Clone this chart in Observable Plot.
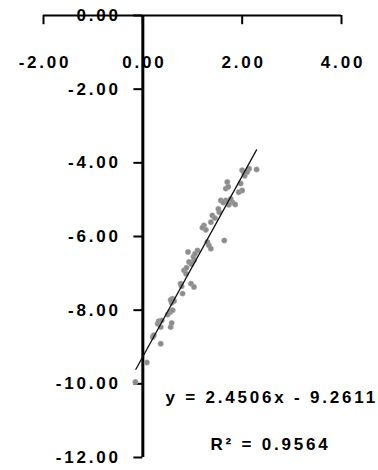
<!DOCTYPE html>
<html>
<head>
<meta charset="utf-8">
<script src="https://cdn.jsdelivr.net/npm/d3@7"></script>
<script src="https://cdn.jsdelivr.net/npm/@observablehq/plot@0.6"></script>
<style>
  html, body { margin: 0; padding: 0; background: #fff; }
  #chart svg { display: block; }
  #chart svg text { letter-spacing: 2.8px; }
</style>
</head>
<body>
<div id="chart"></div>
<script>
const xTicks = [-2, 0, 2, 4];
const xTickLabels = ["-2.00", "0.00", "2.00", "4.00"];
const yTicks = [0, -2, -4, -6, -8, -10, -12];
const yTickLabels = ["0.00", "-2.00", "-4.00", "-6.00", "-8.00", "-10.00", "-12.00"];

const pointX = [-0.15, 0.08, 0.20, 0.22, 0.36, 0.30, 0.32, 0.36, 0.38, 0.56, 0.58, 0.55, 0.60, 0.50,
  0.58, 0.60, 0.63, 0.56, 0.80, 0.76, 0.78, 0.97, 1.03, 0.83, 0.87, 0.88, 0.93, 1.03, 0.98,
  0.91, 1.02, 1.10, 1.05, 1.33, 1.37, 1.30, 1.64, 1.23, 1.20, 1.27, 1.37, 1.40, 1.45, 1.54,
  1.52, 1.57, 1.67, 1.62, 1.80, 1.86, 1.73, 1.77, 1.70, 1.67, 1.72, 1.97, 2.00, 1.93, 2.00,
  2.04, 2.05, 2.14, 2.29, 2.10];
const pointY = [-9.95, -9.42, -8.73, -8.68, -8.91, -8.37, -8.30, -8.46, -8.28, -8.46, -8.35, -8.05, -8.00, -8.12,
  -7.80, -7.69, -7.75, -7.72, -7.55, -7.28, -7.35, -7.28, -7.37, -6.92, -7.01, -6.85, -6.69, -6.65, -6.75,
  -6.42, -6.55, -6.38, -6.47, -6.24, -6.33, -6.15, -6.11, -5.70, -5.76, -5.82, -5.61, -5.43, -5.50, -5.34,
  -5.25, -5.02, -5.02, -5.08, -5.07, -5.13, -5.14, -4.98, -4.52, -4.70, -4.65, -4.56, -4.75, -4.80, -4.20,
  -4.29, -4.35, -4.16, -4.18, -4.25];

const slope = 2.4506;
const intercept = -9.2611;
const r2 = 0.9564;
const fitRange = [-0.14, 2.29];

const points = pointX.map((x, i) => ({x, y: pointY[i]}));
const fitLine = fitRange.map(x => ({x, y: slope * x + intercept}));
const eqText = `y = ${slope.toFixed(4)}x - ${Math.abs(intercept).toFixed(4)}`;
const r2Text = `R² = ${r2.toFixed(4)}`;

const font = "'Liberation Sans', Arial, sans-serif";

const chart = Plot.plot({
  width: 378,
  height: 470,
  marginLeft: 43,
  marginRight: 37,
  marginTop: 15,
  marginBottom: 13,
  x: {domain: [-2, 4], axis: null},
  y: {domain: [-12, 0], axis: null},
  style: {fontFamily: font, background: "#fff"},
  marks: [
    Plot.ruleY([0], {x1: -2, x2: 4, stroke: "#000", strokeWidth: 2}),
    Plot.ruleX(xTicks, {x: d => d, y1: 0, y2: -0.25, stroke: "#000", strokeWidth: 2}),
    Plot.ruleX([0], {y1: 0, y2: -12, stroke: "#000", strokeWidth: 3}),
    Plot.ruleY(yTicks, {y: d => d, x1: -0.18, x2: 0, stroke: "#000", strokeWidth: 2}),
    Plot.dot(points, {x: "x", y: "y", r: 2.7, fill: "#8c8c8c", stroke: "#aaa", strokeWidth: 0.5}),
    Plot.line(fitLine, {x: "x", y: "y", stroke: "#111", strokeWidth: 1.3}),
    Plot.text(xTicks, {x: d => d, y: 0, dy: 47, dx: 1.5, text: (d, i) => xTickLabels[i],
      fontSize: 17, fontWeight: "bold", fill: "#000", textAnchor: "middle"}),
    Plot.text(yTicks, {x: 0, y: d => d, dx: -22, text: (d, i) => yTickLabels[i],
      fontSize: 17, fontWeight: "bold", fill: "#000", textAnchor: "end"}),
    Plot.text([eqText], {frameAnchor: "top-left", dx: 122, dy: 375, text: d => d,
      fontSize: 17, fontWeight: "bold", fill: "#000", textAnchor: "start"}),
    Plot.text([r2Text], {frameAnchor: "top-left", dx: 167, dy: 422, text: d => d,
      fontSize: 17, fontWeight: "bold", fill: "#000", textAnchor: "start"})
  ]
});
document.getElementById("chart").appendChild(chart);
</script>
</body>
</html>
